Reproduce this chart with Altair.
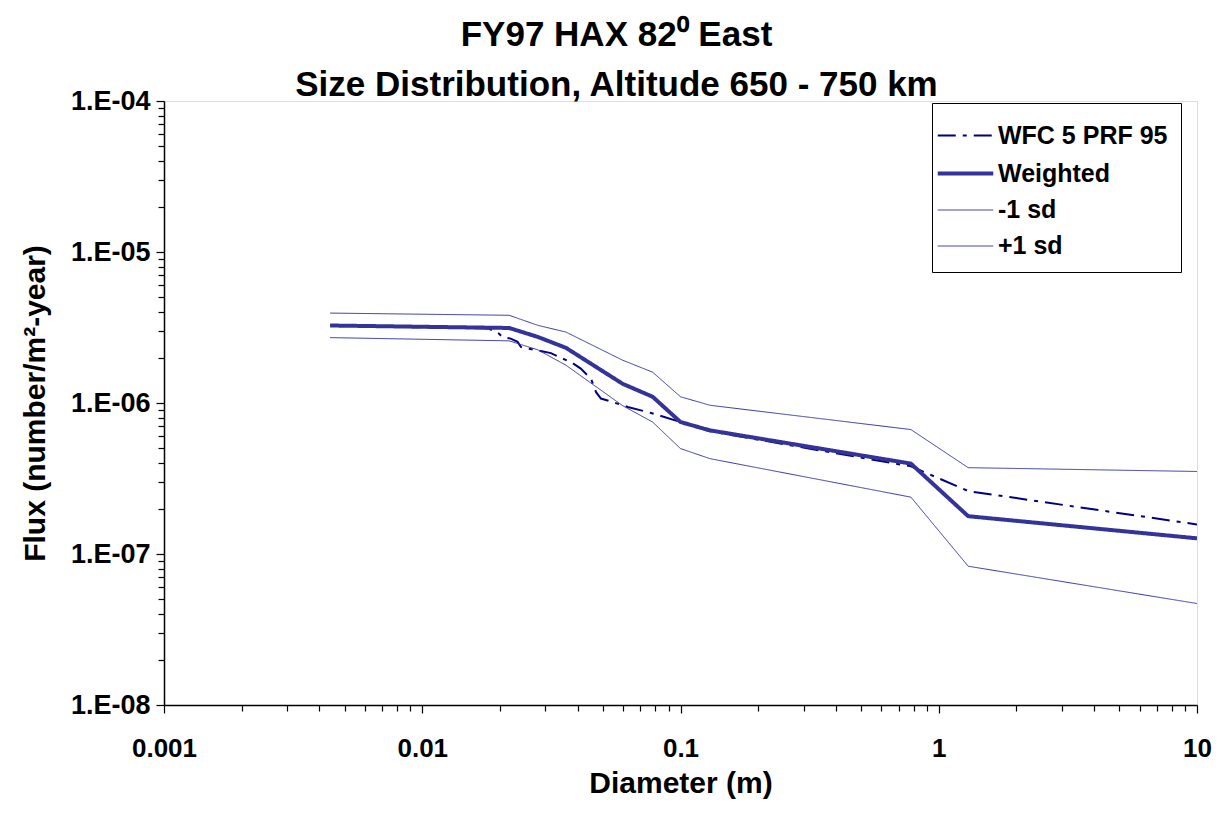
import altair as alt
import pandas as pd

# ---- data ----
series_names = ["WFC 5 PRF 95", "Weighted", "-1 sd", "+1 sd"]

wfc_x = [0.0044, 0.0181, 0.0198, 0.0204, 0.0220, 0.0234, 0.0241, 0.0259, 0.0280,
         0.0315, 0.0349, 0.0376, 0.0411, 0.0450, 0.0471, 0.0492, 0.0522, 0.0625,
         0.0769, 0.1, 0.13, 0.78, 1.3, 10]
wfc_y = [3.26e-6, 3.11e-6, 2.88e-6, 2.74e-6, 2.67e-6, 2.54e-6, 2.35e-6, 2.29e-6, 2.23e-6,
         2.14e-6, 1.97e-6, 1.87e-6, 1.69e-6, 1.45e-6, 1.18e-6, 1.07e-6, 1.04e-6, 9.41e-7,
         8.59e-7, 7.48e-7, 6.5e-7, 3.81e-7, 2.61e-7, 1.57e-7]

sd_x = [0.0044, 0.0217, 0.028, 0.036, 0.0597, 0.078, 0.1, 0.13, 0.78, 1.3, 10]
weighted_y = [3.26e-6, 3.14e-6, 2.74e-6, 2.32e-6, 1.34e-6, 1.10e-6, 7.48e-7, 6.59e-7, 3.97e-7, 1.78e-7, 1.27e-7]
minus_sd_y = [2.71e-6, 2.58e-6, 2.25e-6, 1.78e-6, 9.6e-7, 7.48e-7, 4.99e-7, 4.28e-7, 2.38e-7, 8.3e-8, 4.7e-8]
plus_sd_y = [3.94e-6, 3.81e-6, 3.27e-6, 2.95e-6, 1.92e-6, 1.60e-6, 1.10e-6, 9.66e-7, 6.67e-7, 3.73e-7, 3.52e-7]

x_major = [0.001, 0.01, 0.1, 1, 10]
y_major = [1e-8, 1e-7, 1e-6, 1e-5, 1e-4]

# ---- build table ----
rows = []
for x, y in zip(wfc_x, wfc_y):
    rows.append({"series": "WFC 5 PRF 95", "x": x, "y": y})
for name, ys in [("Weighted", weighted_y), ("-1 sd", minus_sd_y), ("+1 sd", plus_sd_y)]:
    for x, y in zip(sd_x, ys):
        rows.append({"series": name, "x": x, "y": y})
df = pd.DataFrame(rows)
df["ord"] = range(len(df))

# axis tick positions (major + minor)
x_ticks = [m * d for d in x_major[:-1] for m in range(1, 10)] + [x_major[-1]]
y_ticks = [m * d for d in y_major[:-1] for m in range(1, 10)] + [y_major[-1]]

is_major = "abs(log(datum.value)/LN10 - round(log(datum.value)/LN10)) < 1e-6"

FONT = "Liberation Sans"

x_axis = alt.Axis(
    values=x_ticks,
    labelExpr=f"({is_major}) ? format(datum.value, '~g') : ''",
    tickSize={"condition": {"test": is_major, "value": 8}, "value": 6},
    tickColor="black", tickWidth=1.2,
    domainColor="black", domainWidth=1.5,
    grid=False, labelFont=FONT, labelFontSize=26, labelFontWeight="bold",
    labelColor="black", labelPadding=22, labelOverlap=False, labelFlush=False,
    title="Diameter (m)", titleFont=FONT, titleFontSize=30, titleFontWeight="bold",
    titleColor="black", titlePadding=7,
)
y_axis = alt.Axis(
    values=y_ticks,
    labelExpr=f"({is_major}) ? '1.E-0' + (-round(log(datum.value)/LN10)) : ''",
    tickSize={"condition": {"test": is_major, "value": 8}, "value": 6},
    tickColor="black", tickWidth=1.2,
    domainColor="black", domainWidth=1.5,
    grid=False, labelFont=FONT, labelFontSize=27, labelFontWeight="bold",
    labelColor="black", labelPadding=6, labelOverlap=False, labelFlush=False,
    title="Flux (number/m²-year)", titleFont=FONT, titleFontSize=30, titleFontWeight="bold",
    titleColor="black", titlePadding=20,
)

legend = alt.Legend(
    title=None, orient="none", legendX=768, legendY=2,
    direction="vertical",
    symbolType="M-1.5,0H1.5", symbolSize=1369, symbolFillColor="transparent",
    labelFont=FONT, labelFontSize=25, labelFontWeight="bold", labelColor="black",
    labelOffset=12, labelLimit=400,
    padding=13, rowPadding=4,
    strokeColor="black", fillColor="white",
)

chart = alt.Chart(df).mark_line(clip=True).encode(
    x=alt.X("x:Q", scale=alt.Scale(type="log", domain=[0.001, 10], nice=False), axis=x_axis),
    y=alt.Y("y:Q", scale=alt.Scale(type="log", domain=[1e-8, 1e-4], nice=False), axis=y_axis),
    color=alt.Color("series:N",
                    scale=alt.Scale(domain=series_names,
                                    range=["#000080", "#333399", "#3535a8", "#3535a8"]),
                    legend=legend, sort=series_names),
    strokeDash=alt.StrokeDash("series:N",
                              scale=alt.Scale(domain=series_names,
                                              range=[[18, 7, 4, 7], [1, 0], [1, 0], [1, 0]]),
                              legend=legend, sort=series_names),
    strokeWidth=alt.StrokeWidth("series:N",
                                scale=alt.Scale(type="ordinal", domain=series_names,
                                                range=[2, 4, 1, 1]),
                                legend=legend, sort=series_names),
    order="ord:Q",
).properties(
    width=1033,
    height=604,
    title=alt.TitleParams(
        text=["FY97 HAX 82\u2070 East", "Size Distribution, Altitude 650 - 750 km"],
        font=FONT, fontSize=35, fontWeight="bold", color="black",
        anchor="middle", dx=-64, dy=46, offset=2, lineHeight=50, baseline="alphabetic",
    ),
    autosize=alt.AutoSizeParams(type="none"),
    padding={"left": 156, "top": 93, "right": 16, "bottom": 103},
).configure_view(
    stroke="#808080", strokeWidth=2,
).configure(background="white")

chart.save("out.html", embed_options={"renderer": "svg", "actions": False})
